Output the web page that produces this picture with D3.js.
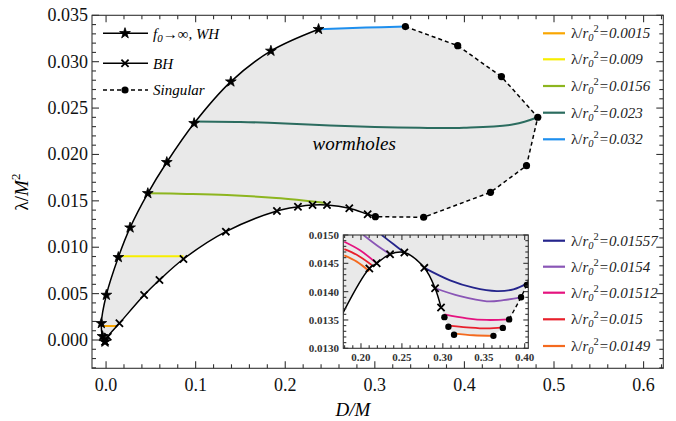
<!DOCTYPE html>
<html><head><meta charset="utf-8">
<script src="https://cdn.jsdelivr.net/npm/d3@7"></script>
<style>body{margin:0;background:#fff}svg{display:block}text{font-family:"Liberation Serif","Times New Roman",serif}</style>
</head><body><svg id="c" width="676" height="421"></svg>
<script>
// ---------- data ----------
const xTicksMain = [0.0,0.1,0.2,0.3,0.4,0.5,0.6];
const yTicksMain = [0.000,0.005,0.010,0.015,0.020,0.025,0.030,0.035];
const xTicksInset = [0.20,0.25,0.30,0.35,0.40];
const yTicksInset = [0.0130,0.0135,0.0140,0.0145,0.0150];

// f0 -> infinity, WH branch (stars)
const whPts = [[-0.0012,-0.0002],[-0.004,0.0004],[-0.0053,0.0018],[0.0003,0.00485],[0.0137,0.00892],[0.0268,0.01211],[0.0466,0.01581],[0.0678,0.01916],[0.0983,0.02336],[0.1393,0.02785],[0.1840,0.03116],[0.2372,0.03350]];
// BH branch (crosses)
const bhPts = [[-0.0012,-0.0002],[0.0019,0.00036],[0.0149,0.0018],[0.0425,0.00485],[0.0596,0.00647],[0.0864,0.00873],[0.1337,0.01168],[0.1907,0.01391],[0.2142,0.01437],[0.2305,0.01455],[0.2466,0.01455],[0.2715,0.0142],[0.2920,0.01355],[0.3006,0.01329]];
const bhMarkerCount = 13;
// singular boundary (dots), from top going clockwise
const singPts = [[0.3341,0.03378],[0.3925,0.03173],[0.4413,0.02839],[0.4819,0.02401],[0.4693,0.01879],[0.4291,0.01592],[0.3545,0.01323],[0.3006,0.01329]];

// constant lambda/r0^2 lines in main plot
const mainLabels = ["0.0015","0.009","0.0156","0.023","0.032"];
const mainColors = ["#f9a602","#f7ee00","#8db51f","#2b6c5f","#1e8fee"];
const line0015 = [[-0.0053,0.00151],[0.0115,0.00151]];
const line009 = [[0.0137,0.00902],[0.0864,0.00902]];
const line0156 = [[0.0466,0.01581],[0.09,0.01575],[0.1349,0.01563],[0.19,0.01530],[0.245,0.01478]];
const line023 = [[0.0983,0.02355],[0.15,0.02350],[0.2,0.02335],[0.25,0.02312],[0.3,0.02295],[0.35,0.02287],[0.3992,0.02289],[0.4551,0.02325],[0.4819,0.02401]];
const line032 = [[0.2372,0.03350],[0.29,0.03368],[0.3341,0.03378]];

// inset data
const bhInset = [[0.175,0.01352],[0.1796,0.01367],[0.2102,0.01441],[0.2192,0.01450],[0.2355,0.01466],[0.2530,0.01469],[0.2774,0.01442],[0.2905,0.01406],[0.2978,0.01372]];
const singInset = [[0.3019,0.01355],[0.3068,0.01338],[0.3137,0.01324],[0.3618,0.01322],[0.3733,0.01336],[0.3810,0.01351],[0.3956,0.01390],[0.4026,0.01412]];
const singInsetDash = [[0.3810,0.01351],[0.3956,0.01390],[0.4026,0.01412],[0.41,0.01445]];
const insetLabels = ["0.01557","0.0154","0.01512","0.015","0.0149"];
const insetColors = ["#25258c","#8a56b6","#e5137f","#e8202b","#f46a1f"];
const in01557a = [[0.2253,0.0150],[0.2395,0.01484],[0.2530,0.01469]];
const in01557b = [[0.2774,0.01442],[0.3088,0.01420],[0.3373,0.01407],[0.3659,0.01401],[0.3862,0.01404],[0.4038,0.01415]];
const in0154a = [[0.2029,0.0150],[0.2192,0.01482],[0.2355,0.01466]];
const in0154b = [[0.2905,0.01406],[0.3211,0.01392],[0.3537,0.01383],[0.3740,0.01385],[0.3956,0.01390]];
const in01512a = [[0.1796,0.01488],[0.1988,0.01473],[0.2192,0.01450]];
const in01512b = [[0.3019,0.01360],[0.3293,0.01353],[0.3537,0.01350],[0.3810,0.01351]];
const in015a = [[0.1796,0.01475],[0.1948,0.01465],[0.2131,0.01447]];
const in015b = [[0.3068,0.01340],[0.3293,0.01337],[0.3537,0.01335],[0.3733,0.01337]];
const in0149a = [[0.1796,0.01464],[0.1948,0.01453],[0.2102,0.01436]];
const in0149b = [[0.3137,0.01326],[0.3373,0.01323],[0.3618,0.01322]];

// ---------- drawing ----------
const svg = d3.select("#c");
const x = d3.scaleLinear().domain([-0.0157,0.622]).range([92,663.3]);
const y = d3.scaleLinear().domain([-0.00305,0.035]).range([368.3,15.3]);
const xi = d3.scaleLinear().domain([0.1784,0.4044]).range([343.3,528.3]);
const yi = d3.scaleLinear().domain([0.0130,0.0150]).range([348.3,235]);

const defs = svg.append("defs");
defs.append("clipPath").attr("id","cm").append("rect").attr("x",92).attr("y",15.3).attr("width",571.3).attr("height",353);
defs.append("clipPath").attr("id","ci").append("rect").attr("x",343.3).attr("y",235).attr("width",185).attr("height",113.3);

function lineGen(sx,sy,curve){return d3.line().x(d=>sx(d[0])).y(d=>sy(d[1])).curve(curve||d3.curveLinear);}
const cr = d3.curveCatmullRom.alpha(0.5);
const asL = s => "L" + s.slice(1);

const gm = svg.append("g").attr("clip-path","url(#cm)");
// fill region
const fillD = lineGen(x,y,cr)(whPts) + asL(lineGen(x,y,cr)(line032)) + asL(lineGen(x,y)(singPts)) + asL(lineGen(x,y,cr)(bhPts.slice().reverse())) + "Z";
gm.append("path").attr("d",fillD).attr("fill","#e9e9e9");

// coloured lines
[line0015,line009,line0156,line023,line032].forEach((p,i)=>{
  gm.append("path").attr("d",lineGen(x,y,cr)(p)).attr("fill","none").attr("stroke",mainColors[i]).attr("stroke-width",2);
});
// curves
gm.append("path").attr("d",lineGen(x,y,cr)(whPts)).attr("fill","none").attr("stroke","#000").attr("stroke-width",1.5);
gm.append("path").attr("d",lineGen(x,y,cr)(bhPts)).attr("fill","none").attr("stroke","#000").attr("stroke-width",1.5);
gm.append("path").attr("d",lineGen(x,y)(singPts)).attr("fill","none").attr("stroke","#000").attr("stroke-width",1.5).attr("stroke-dasharray","4,3");

const starPath = d3.symbol().type(d3.symbolStar).size(36)();
const crossPath = "M-3.6,-3.6L3.6,3.6M-3.6,3.6L3.6,-3.6";
function stars(g,pts,sx,sy){g.selectAll(null).data(pts).join("path").attr("d",starPath).attr("transform",d=>`translate(${sx(d[0])},${sy(d[1])})`).attr("fill","#000").attr("stroke","#000").attr("stroke-width",0.8);}
function crosses(g,pts,sx,sy){g.selectAll(null).data(pts).join("path").attr("d",crossPath).attr("transform",d=>`translate(${sx(d[0])},${sy(d[1])})`).attr("fill","none").attr("stroke","#000").attr("stroke-width",1.8);}
function dots(g,pts,sx,sy,r){g.selectAll(null).data(pts).join("circle").attr("cx",d=>sx(d[0])).attr("cy",d=>sy(d[1])).attr("r",r).attr("fill","#000");}
stars(gm,whPts,x,y);
crosses(gm,bhPts.slice(0,bhMarkerCount),x,y);
dots(gm,singPts,x,y,3.6);

// wormholes label
svg.append("text").attr("x",x(0.277)).attr("y",y(0.0205)).attr("text-anchor","middle").attr("font-style","italic").attr("font-size",19).text("wormholes");

// frame & ticks
function frameTicks(g,sx,sy,xt,yt,xMinorStep,yMinorStep,majLen,minLen){
  const [x0,x1]=sx.range(), [y0,y1]=sy.range();
  const [dx0,dx1]=sx.domain(), [dy0,dy1]=sy.domain();
  const eps=1e-9;
  const xmin = d3.range(Math.ceil(dx0/xMinorStep-eps), Math.floor(dx1/xMinorStep+eps)+1).map(k=>k*xMinorStep);
  const ymin = d3.range(Math.ceil(dy0/yMinorStep-eps), Math.floor(dy1/yMinorStep+eps)+1).map(k=>k*yMinorStep);
  const isMaj=(v,arr)=>arr.some(t=>Math.abs(t-v)<1e-9);
  xmin.forEach(v=>{const L=isMaj(v,xt)?majLen:minLen;const px=sx(v);
    g.append("line").attr("x1",px).attr("x2",px).attr("y1",y0).attr("y2",y0-L);
    g.append("line").attr("x1",px).attr("x2",px).attr("y1",y1).attr("y2",y1+L);});
  ymin.forEach(v=>{const L=isMaj(v,yt)?majLen:minLen;const py=sy(v);
    g.append("line").attr("x1",x0).attr("x2",x0+L).attr("y1",py).attr("y2",py);
    g.append("line").attr("x1",x1).attr("x2",x1-L).attr("y1",py).attr("y2",py);});
  g.append("rect").attr("x",x0).attr("y",y1).attr("width",x1-x0).attr("height",y0-y1).attr("fill","none");
  g.attr("stroke","#333").attr("stroke-width",1.1);
}
frameTicks(svg.append("g"),x,y,xTicksMain,yTicksMain,0.02,0.001,7,4);
svg.append("g").selectAll("text").data(xTicksMain).join("text").attr("x",d=>x(d)).attr("y",391).attr("text-anchor","middle").attr("font-size",18).attr("fill","#111").text(d=>d3.format(".1f")(d));
svg.append("g").selectAll("text").data(yTicksMain).join("text").attr("x",88).attr("y",d=>y(d)+6).attr("text-anchor","end").attr("font-size",18).attr("fill","#111").text(d=>d3.format(".3f")(d));

// axis titles
const xt = svg.append("text").attr("x",353).attr("y",416).attr("text-anchor","middle").attr("font-size",19).attr("font-style","italic");
xt.text("D/M");
const yt = svg.append("text").attr("transform","translate(28,192) rotate(-90)").attr("text-anchor","middle").attr("font-size",19);
yt.append("tspan").text("λ/");
yt.append("tspan").attr("font-style","italic").text("M");
yt.append("tspan").attr("font-size",13).attr("dy",-8).text("2");

// top-left legend
const lg = svg.append("g");
const lgRows = [{y:33.3,t:"star",dash:null},{y:63.3,t:"cross",dash:null},{y:90,t:"dot",dash:"4,3"}];
lgRows.forEach(r=>{
  lg.append("line").attr("x1",103).attr("x2",148).attr("y1",r.y).attr("y2",r.y).attr("stroke","#000").attr("stroke-width",1.5).attr("stroke-dasharray",r.dash);
  if(r.t==="star") lg.append("path").attr("d",starPath).attr("transform",`translate(125,${r.y})`).attr("fill","#000").attr("stroke","#000").attr("stroke-width",0.8);
  if(r.t==="cross") lg.append("path").attr("d",crossPath).attr("transform",`translate(125,${r.y})`).attr("stroke","#000").attr("stroke-width",1.8);
  if(r.t==="dot") lg.append("circle").attr("cx",125).attr("cy",r.y).attr("r",3.6).attr("fill","#000");
});
const t1 = lg.append("text").attr("x",153).attr("y",38.5).attr("font-size",15).attr("font-style","italic");
t1.append("tspan").text("f");
t1.append("tspan").attr("font-size",11).attr("dy",3).text("0");
t1.append("tspan").attr("dy",-3).attr("font-style","normal").text("→∞");
t1.append("tspan").text(", WH");
lg.append("text").attr("x",153).attr("y",68.5).attr("font-size",15).attr("font-style","italic").text("BH");
lg.append("text").attr("x",153).attr("y",95).attr("font-size",15).attr("font-style","italic").text("Singular");

// right legends
function lamLegend(g,ys,labels,colors){
  ys.forEach((yy,i)=>{
    g.append("line").attr("x1",543).attr("x2",565).attr("y1",yy).attr("y2",yy).attr("stroke",colors[i]).attr("stroke-width",2.2);
    const t=g.append("text").attr("x",571).attr("y",yy+5).attr("font-size",15).attr("fill","#222");
    t.append("tspan").text("λ/");
    t.append("tspan").attr("font-style","italic").text("r");
    t.append("tspan").attr("font-size",10.5).attr("dy",3).attr("font-style","italic").text("0");
    t.append("tspan").attr("font-size",10.5).attr("dy",-9).text("2");
    t.append("tspan").attr("dy",6).attr("font-style","italic").text("="+labels[i]);
  });
}
lamLegend(svg.append("g"),[33.3,59.3,86,112.7,139.3],mainLabels,mainColors);
lamLegend(svg.append("g"),[240.7,266.7,292.7,319.3,346],insetLabels,insetColors);

// ---------- inset ----------
svg.append("rect").attr("x",343.3).attr("y",235).attr("width",185).attr("height",113.3).attr("fill","#fff");
const gi = svg.append("g").attr("clip-path","url(#ci)");
const insetFill = lineGen(xi,yi,cr)(bhInset) + asL(lineGen(xi,yi)(singInset)) + "L"+xi(0.42)+","+yi(0.0146)+"L"+xi(0.42)+","+yi(0.0156)+"L"+xi(0.17)+","+yi(0.0156)+"L"+xi(0.17)+","+yi(0.0133)+"Z";
gi.append("path").attr("d",insetFill).attr("fill","#e9e9e9");
[[in01557a,in01557b],[in0154a,in0154b],[in01512a,in01512b],[in015a,in015b],[in0149a,in0149b]].forEach((segs,i)=>{
  segs.forEach(s=>gi.append("path").attr("d",lineGen(xi,yi,cr)(s)).attr("fill","none").attr("stroke",insetColors[i]).attr("stroke-width",1.8));
});
gi.append("path").attr("d",lineGen(xi,yi,cr)(bhInset)).attr("fill","none").attr("stroke","#000").attr("stroke-width",1.5);
gi.append("path").attr("d",lineGen(xi,yi)(singInsetDash)).attr("fill","none").attr("stroke","#000").attr("stroke-width",1.4).attr("stroke-dasharray","4,3");
crosses(gi,bhInset.slice(2),xi,yi);
dots(gi,singInset,xi,yi,3.2);
frameTicks(svg.append("g"),xi,yi,xTicksInset,yTicksInset,0.01,0.0001,5,3);
svg.append("g").selectAll("text").data(xTicksInset).join("text").attr("x",d=>xi(d)).attr("y",361).attr("text-anchor","middle").attr("font-size",11).attr("font-weight","bold").attr("fill","#333").text(d=>d3.format(".2f")(d));
svg.append("g").selectAll("text").data(yTicksInset).join("text").attr("x",339).attr("y",d=>yi(d)+4).attr("text-anchor","end").attr("font-size",11).attr("font-weight","bold").attr("fill","#333").text(d=>d3.format(".4f")(d));
</script></body></html>
